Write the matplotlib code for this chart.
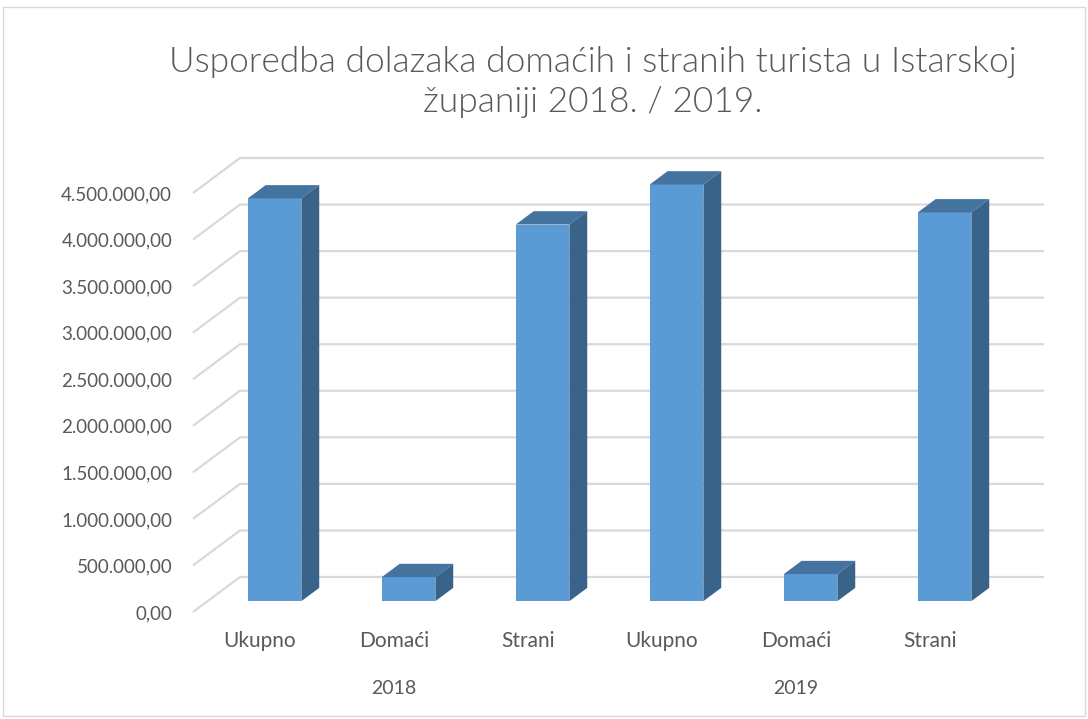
import matplotlib
matplotlib.use("Agg")
import matplotlib.pyplot as plt
from matplotlib.patches import Polygon, Rectangle

# ---- data ----
categories = ["Ukupno", "Domaći", "Strani", "Ukupno", "Domaći", "Strani"]
years = ["2018", "2019"]
values = [4325000, 258000, 4045000, 4475000, 290000, 4175000]
yticks = [0, 500000, 1000000, 1500000, 2000000, 2500000, 3000000, 3500000, 4000000, 4500000]
title = "Usporedba dolazaka domaćih i stranih turista u Istarskoj\nžupaniji 2018. / 2019."

def fmt(v):
    s = f"{v:,.2f}"
    return s.replace(",", "X").replace(".", ",").replace("X", ".")

# ---- style ----
FONT = "Lato"
TXT = "#595959"
GRID = "#d9d9d9"
FRONT = "#5b9bd5"
TOP = "#44739f"
SIDE = "#3a6389"

W, H = 1088, 719
fig = plt.figure(figsize=(W / 100, H / 100), dpi=100)
fig.patches.append(Rectangle((3 / W, 3 / H), (W - 6) / W, (H - 10) / H,
                             transform=fig.transFigure, fill=False,
                             edgecolor=GRID, linewidth=1.0))

# axes: front plane x from 193 to 997 px, y 0 -> 612 px, 4.5M -> 193 px
x0, x1 = 193, 997
y0, y1 = 612, 193
ax = fig.add_axes([x0 / W, 1 - y0 / H, (x1 - x0) / W, (y0 - y1) / H])
n = len(categories)
ax.set_xlim(-0.5, n - 0.5)
ax.set_ylim(0, yticks[-1])
for s in ax.spines.values():
    s.set_visible(False)

# depth offset of the back wall in data units
px_per_cat = (x1 - x0) / n
px_per_val = (y0 - y1) / yticks[-1]
DX = 47 / px_per_cat
DY = 35 / px_per_val

# gridlines on back wall with diagonal from the front edge
for v in yticks:
    ax.plot([-0.5, -0.5 + DX, n - 0.5 + DX], [v, v + DY, v + DY],
            color=GRID, lw=1.6, clip_on=False, zorder=1, solid_capstyle="butt")

# 3D-looking bars
f0, f1 = 0.31, 0.69
bw = 0.4
dd = f1 - f0
for i, v in enumerate(values):
    xl = i - bw / 2 + f0 * DX
    xr = i + bw / 2 + f0 * DX
    b = f0 * DY
    t = v + f0 * DY
    ax.bar(xl, t - b, width=bw, bottom=b, align="edge", color=FRONT,
           edgecolor="none", clip_on=False, zorder=3)
    ax.add_patch(Polygon([(xl, t), (xr, t), (xr + dd * DX, t + dd * DY),
                          (xl + dd * DX, t + dd * DY)], closed=True,
                         facecolor=TOP, edgecolor="none", clip_on=False, zorder=3))
    ax.add_patch(Polygon([(xr, b), (xr + dd * DX, b + dd * DY),
                          (xr + dd * DX, t + dd * DY), (xr, t)], closed=True,
                         facecolor=SIDE, edgecolor="none", clip_on=False, zorder=3))

ax.set_yticks(yticks)
ax.set_yticklabels([fmt(v) for v in yticks], fontfamily=FONT, fontsize=13.5, color=TXT)
ax.set_xticks(range(n))
ax.set_xticklabels(categories, fontfamily=FONT, fontsize=15, color=TXT)
ax.tick_params(axis="y", length=0, pad=15)
ax.tick_params(axis="x", length=0, pad=14)

for k, yr in enumerate(years):
    ax.annotate(yr, xy=(k * 3 + 1, 0), xycoords=("data", "axes fraction"),
                xytext=(0, -77), textcoords="offset pixels",
                ha="center", va="center", fontfamily=FONT, fontsize=14, color=TXT)

fig.text(593 / W, 1 - 82 / H, title, ha="center", va="center",
         fontfamily=FONT, fontweight=300, fontsize=25.5, color=TXT,
         linespacing=1.3)

fig.savefig("out.png", dpi=100)
